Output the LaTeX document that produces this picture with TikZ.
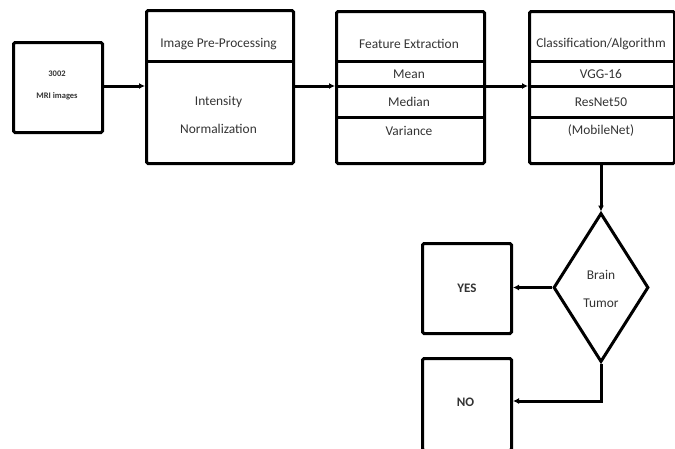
\documentclass[tikz,border=0pt]{standalone}
\usepackage{fontspec}
\setmainfont{Carlito}
\usetikzlibrary{arrows.meta,shapes.geometric}
\begin{document}
\begin{tikzpicture}[x=1pt,y=-1pt,
  box/.style={draw,line width=3pt,rounded corners=1.5pt,inner sep=0pt,anchor=north west},
  lbl/.style={font=\fontsize{13.4}{15}\selectfont,text=black!80,inner sep=0pt},
  sep/.style={line width=3pt},
  conn/.style={line width=3pt,-{Latex[length=6pt,width=6pt]}}]
\useasboundingbox (0,0) rectangle (675,448);
% input
\node[box,minimum width=89pt,minimum height=90pt] (in) at (12,41) {};
\node[font=\bfseries\fontsize{8.5}{10}\selectfont,align=center,text=black!80,inner sep=0pt] (intext) at (57,85) {3002\\[12pt]MRI images};
% preprocessing
\node[box,minimum width=147pt,minimum height=153pt] (pre) at (145,9) {};
\draw[sep] (pre.west |- 0,61) -- (pre.east |- 0,61);
\node[lbl] (pret) at (218.5,44) {Image Pre-Processing};
\node[lbl] (prea) at (218.5,102) {Intensity};
\node[lbl] (preb) at (218.5,129) {Normalization};
% feature extraction
\node[box,minimum width=148pt,minimum height=152pt] (fe) at (335,10) {};
\draw[sep] (fe.west |- 0,61) -- (fe.east |- 0,61);
\draw[sep] (fe.west |- 0,86) -- (fe.east |- 0,86);
\draw[sep] (fe.west |- 0,117) -- (fe.east |- 0,117);
\node[lbl] (fet) at (409,44) {Feature Extraction};
\node[lbl] (fe1) at (409,74) {Mean};
\node[lbl] (fe2) at (409,102) {Median};
\node[lbl] (fe3) at (409,131) {Variance};
% classification
\node[box,minimum width=145pt,minimum height=152pt] (cl) at (528,10) {};
\draw[sep] (cl.west |- 0,61) -- (cl.east |- 0,61);
\draw[sep] (cl.west |- 0,86) -- (cl.east |- 0,86);
\draw[sep] (cl.west |- 0,117) -- (cl.east |- 0,117);
\node[lbl] (clt) at (601,44) {Classification/Algorithm};
\node[lbl] (cl1) at (601,74) {VGG-16};
\node[lbl] (cl2) at (601,102) {ResNet50};
\node[lbl] (cl3) at (601,131) {(MobileNet)};
% diamond
\node[draw,diamond,line width=3pt,minimum width=95pt,minimum height=149pt,inner sep=0pt] (dm) at (601,287.5) {};
\node[lbl] (dmt1) at (601,275) {Brain};
\node[lbl] (dmt2) at (601,303) {Tumor};
% yes / no
\node[box,minimum width=89pt,minimum height=90pt] (yes) at (421,242) {};
\node[lbl,font=\bfseries\fontsize{13}{15}\selectfont] (yest) at (yes.center) {YES};
\node[box,minimum width=89pt,minimum height=92pt] (no) at (421,357) {};
\node[lbl,font=\bfseries\fontsize{13}{15}\selectfont] (not) at (465.5,402) {NO};
% connectors
\draw[conn] (in.east |- 0,86) -- (pre.west |- 0,86);
\draw[conn] (pre.east |- 0,86) -- (fe.west |- 0,86);
\draw[conn] (fe.east |- 0,86) -- (cl.west |- 0,86);
\draw[conn] (cl.south -| dm.north) -- (dm.north);
\draw[conn] (dm.west) -- (yes.east |- dm.west);
\coordinate (bend) at (601,401);
\draw[conn] (dm.south) -- (bend) -- (no.east |- bend);
\end{tikzpicture}
\end{document}
